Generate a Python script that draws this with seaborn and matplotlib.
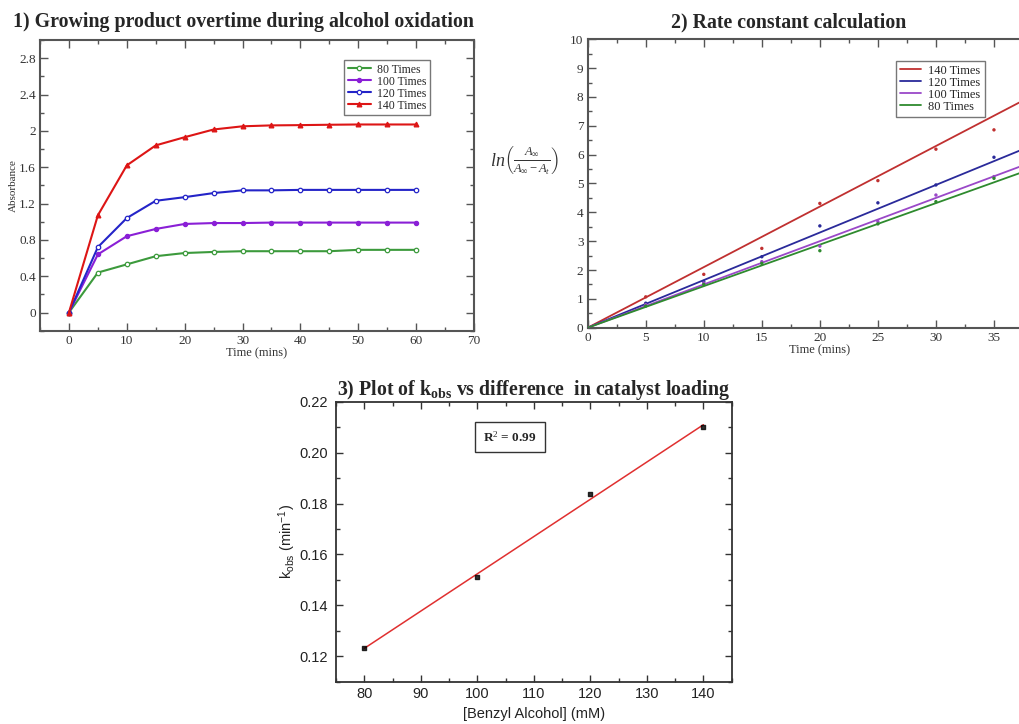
import numpy as np
import pandas as pd
import matplotlib
matplotlib.use("Agg")
import matplotlib.pyplot as plt
from matplotlib.ticker import MultipleLocator, FormatStrFormatter, FixedLocator
import seaborn as sns

sns.set_theme(style="white")
plt.rcParams['font.family'] = ['Liberation Serif', 'DejaVu Serif']
plt.rcParams['mathtext.fontset'] = 'custom'
plt.rcParams['mathtext.rm'] = 'Liberation Serif'
plt.rcParams['mathtext.it'] = 'Liberation Serif:italic'
plt.rcParams['mathtext.bf'] = 'Liberation Serif:bold'
plt.rcParams['mathtext.sf'] = 'Liberation Sans'

# ---------------- Panel 1 data ----------------
time1 = [0, 5, 10, 15, 20, 25, 30, 35, 40, 45, 50, 55, 60]
abs_80 = [0, 0.44, 0.53, 0.62, 0.655, 0.667, 0.675, 0.675, 0.675, 0.675, 0.69, 0.69, 0.69]
abs_100 = [0, 0.64, 0.84, 0.92, 0.975, 0.985, 0.985, 0.99, 0.99, 0.99, 0.99, 0.99, 0.99]
abs_120 = [0, 0.72, 1.04, 1.23, 1.27, 1.315, 1.345, 1.345, 1.35, 1.35, 1.35, 1.35, 1.35]
abs_140 = [0, 1.07, 1.62, 1.84, 1.93, 2.015, 2.05, 2.06, 2.063, 2.067, 2.07, 2.07, 2.07]
labels1 = ["80 Times", "100 Times", "120 Times", "140 Times"]

# ---------------- Panel 2 data ----------------
time2 = [0, 5, 10, 15, 20, 25, 30, 35]
ln_140 = [0, 1.07, 1.85, 2.75, 4.31, 5.10, 6.19, 6.86]
ln_120 = [0, 0.85, 1.60, 2.46, 3.53, 4.33, 4.95, 5.91]
ln_100 = [0, 0.80, 1.55, 2.29, 2.83, 3.68, 4.60, 5.24]
ln_80 = [0, 0.75, 1.50, 2.23, 2.67, 3.60, 4.37, 5.18]
fit_slopes = [0.210, 0.165, 0.150, 0.144]
labels2 = ["140 Times", "120 Times", "100 Times", "80 Times"]
fit_x = [0, 40]
xticks2 = [0, 5, 10, 15, 20, 25, 30, 35]

# ---------------- Panel 3 data ----------------
benzyl = [80, 100, 120, 140]
kobs = [0.1232, 0.1511, 0.1839, 0.2099]

W, H = 1019, 724
fig = plt.figure(figsize=(W / 100, H / 100), dpi=100)

frame_col = '#555555'
text_col = '#333333'
TITLE_FS = 14.3

# ================= Panel 1 =================
ax1 = fig.add_axes([40 / W, 1 - 330.7 / H, 434 / W, 290.7 / H])
cols1 = ['#3c9a3c', '#8a1fd6', '#2424c8', '#dd1515']
markers1 = [dict(marker='o', mfc='white', ms=3.2, mew=0.9),
            dict(marker='o', mfc=cols1[1], ms=3.0, mew=0.9),
            dict(marker='o', mfc='white', ms=3.2, mew=0.9),
            dict(marker='^', mfc=cols1[3], ms=3.4, mew=0.9)]
series1 = [abs_80, abs_100, abs_120, abs_140]
for vals, lab, c, mk in zip(series1, labels1, cols1, markers1):
    df = pd.DataFrame({'t': time1, 'a': vals})
    sns.lineplot(data=df, x='t', y='a', ax=ax1, color=c, lw=1.5, label=lab,
                 mec=c, **mk)
ax1.set_xlim(-5, 70)
ax1.set_ylim(-0.2, 3.0)
ax1.xaxis.set_major_locator(MultipleLocator(10))
ax1.xaxis.set_minor_locator(MultipleLocator(5))
ax1.yaxis.set_major_locator(FixedLocator([0, 0.4, 0.8, 1.2, 1.6, 2.0, 2.4, 2.8]))
ax1.yaxis.set_minor_locator(MultipleLocator(0.2))
ax1.yaxis.set_major_formatter(FormatStrFormatter('%g'))
ax1.set_ylim(-0.2, 3.0)
ax1.set_xlabel('Time (mins)', fontsize=9, color=text_col, labelpad=0)
ax1.set_ylabel('Absorbance', fontsize=8, color=text_col, labelpad=1)
fig.text(243 / W, 1 - 22 / H, '1) Growing product overtime during alcohol oxidation',
         fontsize=TITLE_FS, fontweight='bold', ha='center', va='center')
leg1 = ax1.legend(loc='upper left', bbox_to_anchor=(304 / 434, 1 - 20 / 290.7),
                  fontsize=8.5, frameon=True, fancybox=False, borderpad=0.3,
                  labelspacing=0.0, handlelength=2.0, handletextpad=0.5,
                  borderaxespad=0)
leg1.get_frame().set_edgecolor('#555555')
leg1.get_frame().set_linewidth(1.0)

# ================= Panel 2 =================
ax2 = fig.add_axes([587.7 / W, 1 - 327.7 / H, (1052 - 587.7) / W, 288.4 / H])
cols2 = ['#c03030', '#2a2a9a', '#9a48c8', '#2e8a2e']
series2 = [ln_140, ln_120, ln_100, ln_80]
for vals, slope, lab, c in zip(series2, fit_slopes, labels2, cols2):
    dfp = pd.DataFrame({'t': time2, 'v': vals})
    sns.scatterplot(data=dfp, x='t', y='v', ax=ax2, color=c, s=6,
                    edgecolor='none', zorder=3)
    dfl = pd.DataFrame({'t': fit_x, 'v': [slope * x for x in fit_x]})
    sns.lineplot(data=dfl, x='t', y='v', ax=ax2, color=c, lw=1.3, label=lab)
ax2.set_xlim(0, 40)
ax2.set_ylim(0, 10)
ax2.xaxis.set_major_locator(FixedLocator(xticks2))
ax2.xaxis.set_minor_locator(MultipleLocator(2.5))
ax2.yaxis.set_major_locator(MultipleLocator(1))
ax2.yaxis.set_minor_locator(MultipleLocator(0.5))
ax2.set_xlabel('Time (mins)', fontsize=9, color=text_col, labelpad=0)
ax2.set_ylabel(r'$ln\left(\frac{A_{\infty}}{A_{\infty}-A_{t}}\right)$',
               fontsize=13, rotation=0, color=text_col, ha='center', va='center')
ax2.yaxis.set_label_coords(-0.135, 0.58)
fig.text(789 / W, 1 - 22 / H, '2) Rate constant calculation', fontsize=TITLE_FS,
         fontweight='bold', ha='center', va='center')
leg2 = ax2.legend(loc='upper left',
                  bbox_to_anchor=((896 - 587.7) / 464.3, 1 - (61 - 39.3) / 288.4),
                  fontsize=9, frameon=True, fancybox=False, borderpad=0.3,
                  labelspacing=0.0, handlelength=1.7, handletextpad=0.6,
                  borderaxespad=0)
leg2.get_frame().set_edgecolor('#555555')
leg2.get_frame().set_linewidth(1.0)

for ax in (ax1, ax2):
    ax.tick_params(which='both', direction='in', top=True, right=True,
                   bottom=True, left=True,
                   colors=frame_col, labelcolor=text_col, labelsize=9.5, pad=3)
    ax.tick_params(which='major', length=6, width=1)
    ax.tick_params(which='minor', length=3, width=1)
    for s in ax.spines.values():
        s.set_color(frame_col)
        s.set_linewidth(1.5)

# ================= Panel 3 =================
ax3 = fig.add_axes([336 / W, 1 - 681.7 / H, 395.7 / W, 280 / H])
df3 = pd.DataFrame({'b': benzyl, 'k': kobs})
sns.regplot(data=df3, x='b', y='k', ax=ax3, ci=None, marker='s',
            scatter_kws=dict(s=9, color='black', zorder=3),
            line_kws=dict(color='#e03030', lw=1.1))
ax3.set_xlim(75, 145)
ax3.set_ylim(0.11, 0.22)
ax3.xaxis.set_major_locator(MultipleLocator(10))
ax3.xaxis.set_minor_locator(MultipleLocator(5))
ax3.yaxis.set_major_locator(MultipleLocator(0.02))
ax3.yaxis.set_minor_locator(MultipleLocator(0.01))
ax3.yaxis.set_major_formatter(FormatStrFormatter('%.2f'))
ax3.tick_params(which='both', direction='in', top=True, right=True,
                bottom=True, left=True,
                colors='#333333', labelcolor='#222222')
ax3.tick_params(axis='x', pad=4)
ax3.tick_params(axis='y', pad=6)
ax3.tick_params(which='major', length=5, width=1)
ax3.tick_params(which='minor', length=3, width=1)
for lab in ax3.get_xticklabels() + ax3.get_yticklabels():
    lab.set_family('Liberation Sans')
    lab.set_fontsize(10.5)
for s in ax3.spines.values():
    s.set_color('#333333')
    s.set_linewidth(1.3)
ax3.set_xlabel('[Benzyl Alcohol] (mM)', fontsize=10.5, family='Liberation Sans',
               color='#222222', labelpad=4)
ax3.set_ylabel(r'$\mathsf{k_{obs}}$ (min$\mathsf{^{-1}}$)', fontsize=10.5,
               family='Liberation Sans', color='#222222', labelpad=1)
ax3.set_title(r'3) Plot of k$\mathbf{_{obs}}$ vs difference  in catalyst loading',
              fontsize=TITLE_FS, fontweight='bold', pad=4)
ax3.text(105.8, 0.2062, r'R$^{2}$ = 0.99', fontsize=9.5, fontweight='bold',
         ha='center', va='center',
         bbox=dict(boxstyle='square,pad=0.6', fc='white', ec='#333333', lw=1.0))

fig.savefig('out.png', dpi=100)
